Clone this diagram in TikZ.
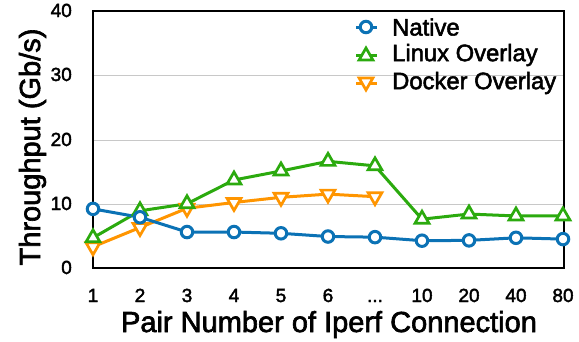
\documentclass[tikz,border=0pt]{standalone}
\usepackage{fontspec}
\setmainfont{Liberation Sans}[FakeBold=2.2]
\usetikzlibrary{shapes.geometric}
\definecolor{nativec}{HTML}{0B72B5}
\definecolor{linuxc}{HTML}{2BAA0E}
\definecolor{dockerc}{HTML}{FF9500}
\definecolor{gridc}{HTML}{C8C8C8}
\tikzset{
  gridline/.style={gridc, line width=1pt},
  frame/.style={black, line width=2.5pt},
  series/.style={line width=3pt, line join=round},
  circmark/.style={circle, draw=nativec, fill=white, line width=3pt, minimum size=11.5pt, inner sep=0pt},
  upmark/.style={regular polygon, regular polygon sides=3, draw=linuxc, fill=white, line width=2.7pt, minimum size=16pt, inner sep=0pt},
  downmark/.style={regular polygon, regular polygon sides=3, shape border rotate=180, draw=dockerc, fill=white, line width=2.7pt, minimum size=16pt, inner sep=0pt},
  ticklab/.style={font=\fontsize{19}{20}\selectfont, inner sep=0pt},
  axislab/.style={font=\fontsize{29}{30}\selectfont, inner sep=0pt},
  legendlab/.style={font=\fontsize{23.8}{25}\selectfont, inner sep=0pt, anchor=west},
}
\begin{document}
\begin{tikzpicture}[x=1pt, y=-1pt]
\useasboundingbox (0,0) rectangle (579,341);

% horizontal grid
\foreach \gy in {75,140,204} \draw[gridline] (93,\gy) -- (564,\gy);

% y tick labels
\foreach \gy/\lab in {268/0,204/10,140/20,75/30,11/40}
  \node[ticklab, anchor=base east] at (72,\gy+6) {\lab};

% x tick labels
\node[ticklab, anchor=base] (x1) at (93,302) {1};
\node[ticklab, anchor=base] (x2) at (140,302) {2};
\node[ticklab, anchor=base] (x3) at (187,302) {3};
\node[ticklab, anchor=base] (x4) at (234,302) {4};
\node[ticklab, anchor=base] (x5) at (281,302) {5};
\node[ticklab, anchor=base] (x6) at (328,302) {6};
\node[ticklab, anchor=base] (x7) at (375,302) {...};
\node[ticklab, anchor=base] (x8) at (422,302) {10};
\node[ticklab, anchor=base] (x9) at (469,302) {20};
\node[ticklab, anchor=base] (x10) at (516,302) {40};
\node[ticklab, anchor=base] (x11) at (563,302) {80};

% axis titles
\node[axislab, anchor=base, rotate=90] (ytitle) at (40,147) {Throughput (Gb/s)};
\node[axislab, anchor=base] (xtitle) at (329,332) {Pair Number of Iperf Connection};

% plot frame
\draw[frame] (93,11) rectangle (564,268);

% legend
\coordinate (la1) at (356,27); \coordinate (lb1) at (377,27);
\coordinate (la2) at (356,55); \coordinate (lb2) at (377,55);
\coordinate (la3) at (356,83); \coordinate (lb3) at (377,83);
\draw[series, nativec] (la1) -- (lb1);
\draw[series, linuxc] (la2) -- (lb2);
\draw[series, dockerc] (la3) -- (lb3);
\node[circmark] (lm1) at (366,27) {};
\node[upmark] (lm2) at (366,56) {};
\node[downmark] (lm3) at (366,82) {};
\node[legendlab] (lt1) at (392,27) {Native};
\node[legendlab] (lt2) at (392,55) {Linux Overlay};
\node[legendlab] (lt3) at (392,83) {Docker Overlay};

% data, in category / Gb/s units
\begin{scope}[shift={(93,268)}, x=47pt, y=6.425pt]
  % Native
  \foreach \v [count=\i from 0] in {9.2,7.9,5.6,5.6,5.4,4.9,4.8,4.25,4.3,4.7,4.5}
    \coordinate (n\i) at (\i,\v);
  % Linux overlay
  \foreach \v [count=\i from 0] in {4.7,8.9,10.0,13.7,15.1,16.6,15.9,7.6,8.4,8.1,8.1}
    \coordinate (l\i) at (\i,\v);
  % Docker overlay
  \foreach \v [count=\i from 0] in {3.3,6.3,9.3,10.2,11.0,11.5,11.1}
    \coordinate (d\i) at (\i,\v);
\end{scope}

\draw[series, dockerc] (d0) -- (d1) -- (d2) -- (d3) -- (d4) -- (d5) -- (d6);
\draw[series, linuxc] (l0) -- (l1) -- (l2) -- (l3) -- (l4) -- (l5) -- (l6) -- (l7) -- (l8) -- (l9) -- (l10);
\draw[series, nativec] (n0) -- (n1) -- (n2) -- (n3) -- (n4) -- (n5) -- (n6) -- (n7) -- (n8) -- (n9) -- (n10);

\foreach \i in {0,...,6} \node[downmark] (dm\i) at (d\i) {};
\foreach \i in {0,...,10} \node[upmark] (lm\i) at (l\i) {};
\foreach \i in {0,...,10} \node[circmark] (nm\i) at (n\i) {};
\end{tikzpicture}
\end{document}
